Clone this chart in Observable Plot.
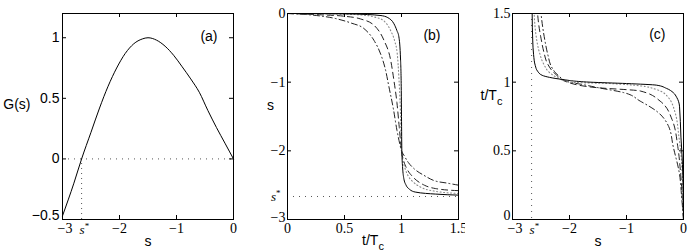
<!DOCTYPE html>
<html><head><meta charset="utf-8">
<script src="https://cdn.jsdelivr.net/npm/d3@7"></script>
<script src="https://cdn.jsdelivr.net/npm/@observablehq/plot@0.6"></script>
<style>
body{margin:0;background:#fff}
#c{display:flex;width:695px;height:252px;overflow:hidden}
</style>
</head><body><div id="c"></div>
<script>
// ---------- data ----------
const sStar = -2.665;

// panel (a): G(s)
const aS = [-3, -2.8, -2.665, -2.5, -2.35, -2.2, -2.05, -1.9, -1.75, -1.6, -1.5, -1.35, -1.2, -1.05, -0.9, -0.75, -0.6, -0.45, -0.3, -0.15, 0];
const aG = [-0.47, -0.2, 0, 0.22, 0.42, 0.6, 0.75, 0.87, 0.95, 0.99, 1.0, 0.98, 0.93, 0.855, 0.76, 0.66, 0.55, 0.4, 0.26, 0.13, 0];

// panel (b): s vs t/Tc
const bSolidT = [0, 0.5, 0.7, 0.82, 0.88, 0.934, 0.96, 0.977, 0.992, 0.998, 1.0, 1.003, 1.01, 1.02, 1.04, 1.07, 1.12, 1.3, 1.5];
const bSolidS = [0, -0.005, -0.015, -0.03, -0.06, -0.15, -0.25, -0.34, -0.68, -1.12, -1.5, -2.0, -2.25, -2.4, -2.5, -2.56, -2.6, -2.63, -2.645];
const bDotT = [0, 0.5, 0.7, 0.76, 0.84, 0.905, 0.94, 0.963, 0.977, 0.99, 1.0, 1.01, 1.03, 1.06, 1.1, 1.17, 1.3, 1.5];
const bDotS = [0, -0.01, -0.03, -0.05, -0.1, -0.25, -0.4, -0.59, -0.93, -1.4, -2.0, -2.12, -2.25, -2.37, -2.45, -2.53, -2.59, -2.62];
const bDashT = [0, 0.3, 0.5, 0.642, 0.758, 0.846, 0.905, 0.934, 0.96, 0.98, 1.0, 1.02, 1.05, 1.1, 1.2, 1.3, 1.5];
const bDashS = [0, -0.02, -0.04, -0.08, -0.17, -0.39, -0.68, -0.98, -1.3, -1.65, -2.0, -2.15, -2.27, -2.38, -2.5, -2.55, -2.58];
const bDashDotT = [0, 0.2, 0.438, 0.56, 0.671, 0.758, 0.817, 0.861, 0.89, 0.93, 0.96, 0.985, 1.0, 1.02, 1.06, 1.11, 1.2, 1.28, 1.4, 1.5];
const bDashDotS = [0, -0.02, -0.08, -0.14, -0.22, -0.39, -0.59, -0.83, -1.07, -1.4, -1.7, -1.9, -2.0, -2.06, -2.17, -2.26, -2.36, -2.43, -2.47, -2.5];

// panel (c): t/Tc vs s
const cSolidS = [0, -0.01, -0.03, -0.045, -0.07, -0.12, -0.18, -0.3, -0.47, -1.0, -1.64, -2.13, -2.35, -2.48, -2.56, -2.6, -2.63, -2.645, -2.655];
const cSolidT = [0, 0.3, 0.5, 0.6, 0.825, 0.89, 0.924, 0.955, 0.978, 0.99, 1.0, 1.02, 1.035, 1.05, 1.08, 1.12, 1.2, 1.3, 1.5];
const cDotS = [0, -0.02, -0.05, -0.08, -0.146, -0.29, -0.5, -0.76, -1.3, -2.0, -2.2, -2.35, -2.45, -2.53, -2.59, -2.62];
const cDotT = [0, 0.3, 0.5, 0.6, 0.776, 0.9, 0.95, 0.973, 0.99, 1.0, 1.03, 1.07, 1.13, 1.22, 1.35, 1.5];
const cDashS = [0, -0.02, -0.05, -0.1, -0.2, -0.41, -0.76, -1.52, -2.0, -2.25, -2.38, -2.45, -2.5, -2.54, -2.56];
const cDashT = [0, 0.15, 0.33, 0.53, 0.727, 0.862, 0.936, 0.96, 0.995, 1.06, 1.13, 1.22, 1.32, 1.42, 1.5];
const cDashDotS = [0, -0.03, -0.07, -0.18, -0.26, -0.47, -0.76, -1.05, -1.5, -1.8, -2.0, -2.2, -2.3, -2.38, -2.43, -2.47, -2.5];
const cDashDotT = [0, 0.15, 0.33, 0.53, 0.677, 0.788, 0.862, 0.924, 0.96, 0.985, 1.0, 1.05, 1.1, 1.2, 1.3, 1.4, 1.5];

// ticks
const sTicks = [-3, -2, -1, 0];
const aGTicks = [-0.5, 0, 0.5, 1];
const tTicks = [0, 0.5, 1, 1.5];
const bSTicks = [-3, -2, -1, 0];
const panelLabels = ["(a)", "(b)", "(c)"];

// ---------- helpers ----------
const H = 252, MT = 13, MB = 33, PW = 171, PH = H - MT - MB;
const SERIF = "'Liberation Serif', 'Times New Roman', serif";
const SANS = "'Liberation Sans', Arial, Helvetica, sans-serif";
const fmt = d => (d < 0 ? "\u2212" + Math.abs(d) : String(d));
const rows = (xs, ys) => xs.map((x, i) => ({x, y: ys[i]}));

const styles = [
  {stroke: "#000", strokeWidth: 1},
  {stroke: "#888", strokeWidth: 1.1, strokeDasharray: "1,2.5"},
  {stroke: "#222", strokeWidth: 1, strokeDasharray: "6,4"},
  {stroke: "#222", strokeWidth: 1, strokeDasharray: "6,3,1,3"}
];

function tickMarks(xt, yt) {
  return [
    Plot.tickX(xt, {x: d => d, insetTop: PH - 4, stroke: "#000"}),
    Plot.tickX(xt, {x: d => d, insetBottom: PH - 4, stroke: "#000"}),
    Plot.tickY(yt, {y: d => d, insetRight: PW - 4, stroke: "#000"}),
    Plot.tickY(yt, {y: d => d, insetLeft: PW - 4, stroke: "#000"})
  ];
}

// x tick labels where the leftmost (−3) starts near the frame edge, followed by s*
function sAxisLabels() {
  return [
    Plot.axisX({ticks: sTicks.slice(1), tickSize: 0, tickPadding: 4, tickFormat: fmt, label: null, fontFamily: SERIF, fontSize: 14}),
    Plot.axisX({ticks: sTicks.slice(0, 1), tickSize: 0, tickPadding: 4, tickFormat: fmt, label: null, fontFamily: SERIF, fontSize: 14, textAnchor: "start", dx: -5}),
    Plot.text([sStar], {x: d => d, frameAnchor: "bottom", dx: -2, dy: 10, text: () => "s*", textAnchor: "start", fontStyle: "italic", fontFamily: SERIF, fontSize: 13, lineAnchor: "middle"})
  ];
}

function postProcess(svg) {
  svg.querySelectorAll("text").forEach(t => {
    if (t.textContent === "s*") {
      t.innerHTML = 's<tspan dy="-5" font-size="9" font-style="normal">*</tspan>';
    } else if (t.textContent === "t/Tc") {
      t.innerHTML = 't/T<tspan dy="5" font-size="11">c</tspan>';
    }
  });
  return svg;
}

const container = document.getElementById("c");

// ---------- panel (a) ----------
const pa = Plot.plot({
  width: 240, height: H, marginTop: MT, marginBottom: MB, marginLeft: 62, marginRight: 7,
  style: {fontFamily: SERIF, fontSize: "14px", background: "#fff", color: "#000", overflow: "visible"},
  x: {domain: [-3, 0]},
  y: {domain: [-0.5, 1.2]},
  marks: [
    Plot.ruleY([0], {stroke: "#555", strokeDasharray: "1,5"}),
    Plot.ruleX([sStar], {y1: -0.5, y2: 0, stroke: "#555", strokeDasharray: "1,4"}),
    Plot.line(rows(aS, aG), {x: "x", y: "y", curve: "monotone-x", ...styles[0]}),
    ...tickMarks(sTicks, aGTicks),
    Plot.frame({stroke: "#000", strokeWidth: 1}),
    ...sAxisLabels(),
    Plot.axisY({ticks: aGTicks.slice(1), tickSize: 0, tickPadding: 3, tickFormat: fmt, label: null, fontFamily: SANS, fontSize: 14}),
    Plot.axisY({ticks: aGTicks.slice(0, 1), tickSize: 0, tickPadding: 3, tickFormat: fmt, label: null, fontFamily: SANS, fontSize: 14, dy: -4}),
    Plot.text(["s"], {frameAnchor: "bottom", dy: 22, text: d => d, fontFamily: SANS, fontSize: 14, lineAnchor: "middle"}),
    Plot.text(["G(s)"], {frameAnchor: "top-left", dx: -32, dy: 91, text: d => d, textAnchor: "end", fontFamily: SANS, fontSize: 14, lineAnchor: "middle"}),
    Plot.text([panelLabels[0]], {frameAnchor: "top-right", dx: -16, dy: 23, text: d => d, textAnchor: "end", fontFamily: SANS, fontSize: 14, lineAnchor: "middle"})
  ]
});
container.appendChild(postProcess(pa));

// ---------- panel (b) ----------
const pb = Plot.plot({
  width: 225, height: H, marginTop: MT, marginBottom: MB, marginLeft: 47, marginRight: 7,
  style: {fontFamily: SERIF, fontSize: "14px", background: "#fff", color: "#000", overflow: "visible"},
  x: {domain: [0, 1.5]},
  y: {domain: [-3, 0]},
  marks: [
    Plot.ruleY([sStar], {stroke: "#555", strokeDasharray: "1,5"}),
    Plot.line(rows(bDashDotT, bDashDotS), {x: "x", y: "y", curve: "monotone-x", ...styles[3]}),
    Plot.line(rows(bDashT, bDashS), {x: "x", y: "y", curve: "monotone-x", ...styles[2]}),
    Plot.line(rows(bDotT, bDotS), {x: "x", y: "y", curve: "monotone-x", ...styles[1]}),
    Plot.line(rows(bSolidT, bSolidS), {x: "x", y: "y", curve: "monotone-x", ...styles[0]}),
    ...tickMarks(tTicks, bSTicks),
    Plot.frame({stroke: "#000", strokeWidth: 1}),
    Plot.axisX({ticks: tTicks, tickSize: 0, tickPadding: 4, tickFormat: fmt, label: null, fontFamily: SERIF, fontSize: 14}),
    Plot.axisY({ticks: bSTicks.slice(1), tickSize: 0, tickPadding: 2, tickFormat: fmt, label: null, fontFamily: SERIF, fontSize: 14}),
    Plot.axisY({ticks: bSTicks.slice(0, 1), tickSize: 0, tickPadding: 2, tickFormat: fmt, label: null, fontFamily: SERIF, fontSize: 14, dy: -2}),
    Plot.text([sStar], {y: d => d, frameAnchor: "left", dx: -7, text: () => "s*", textAnchor: "end", fontStyle: "italic", fontFamily: SERIF, fontSize: 13, lineAnchor: "middle"}),
    Plot.text(["t/Tc"], {frameAnchor: "bottom", dy: 21, text: d => d, fontFamily: SANS, fontSize: 14, lineAnchor: "middle"}),
    Plot.text(["s"], {frameAnchor: "top-left", dx: -17, dy: 92, text: d => d, textAnchor: "middle", fontFamily: SANS, fontSize: 14, lineAnchor: "middle"}),
    Plot.text([panelLabels[1]], {frameAnchor: "top-right", dx: -18, dy: 22, text: d => d, textAnchor: "end", fontFamily: SANS, fontSize: 14, lineAnchor: "middle"})
  ]
});
container.appendChild(postProcess(pb));

// ---------- panel (c) ----------
const pc = Plot.plot({
  width: 230, height: H, marginTop: MT, marginBottom: MB, marginLeft: 47, marginRight: 12,
  style: {fontFamily: SERIF, fontSize: "14px", background: "#fff", color: "#000", overflow: "visible"},
  x: {domain: [-3, 0]},
  y: {domain: [0, 1.5]},
  marks: [
    Plot.ruleX([sStar], {stroke: "#555", strokeDasharray: "1,5"}),
    Plot.line(rows(cDashDotS, cDashDotT), {x: "x", y: "y", curve: "monotone-y", ...styles[3]}),
    Plot.line(rows(cDashS, cDashT), {x: "x", y: "y", curve: "monotone-y", ...styles[2]}),
    Plot.line(rows(cDotS, cDotT), {x: "x", y: "y", curve: "monotone-y", ...styles[1]}),
    Plot.line(rows(cSolidS, cSolidT), {x: "x", y: "y", curve: "monotone-y", ...styles[0]}),
    ...tickMarks(sTicks, tTicks),
    Plot.frame({stroke: "#000", strokeWidth: 1}),
    ...sAxisLabels(),
    Plot.axisY({ticks: tTicks.slice(1), tickSize: 0, tickPadding: 2, tickFormat: fmt, label: null, fontFamily: SERIF, fontSize: 14}),
    Plot.axisY({ticks: tTicks.slice(0, 1), tickSize: 0, tickPadding: 2, tickFormat: fmt, label: null, fontFamily: SERIF, fontSize: 14, dy: -4}),
    Plot.text(["s"], {frameAnchor: "bottom", dy: 22, text: d => d, fontFamily: SANS, fontSize: 14, lineAnchor: "middle"}),
    Plot.text(["t/Tc"], {frameAnchor: "top-left", dx: -21, dy: 82, text: d => d, textAnchor: "middle", fontFamily: SANS, fontSize: 14, lineAnchor: "middle"}),
    Plot.text([panelLabels[2]], {frameAnchor: "top-right", dx: -18, dy: 21, text: d => d, textAnchor: "end", fontFamily: SANS, fontSize: 14, lineAnchor: "middle"})
  ]
});
container.appendChild(postProcess(pc));
</script>
</body></html>
